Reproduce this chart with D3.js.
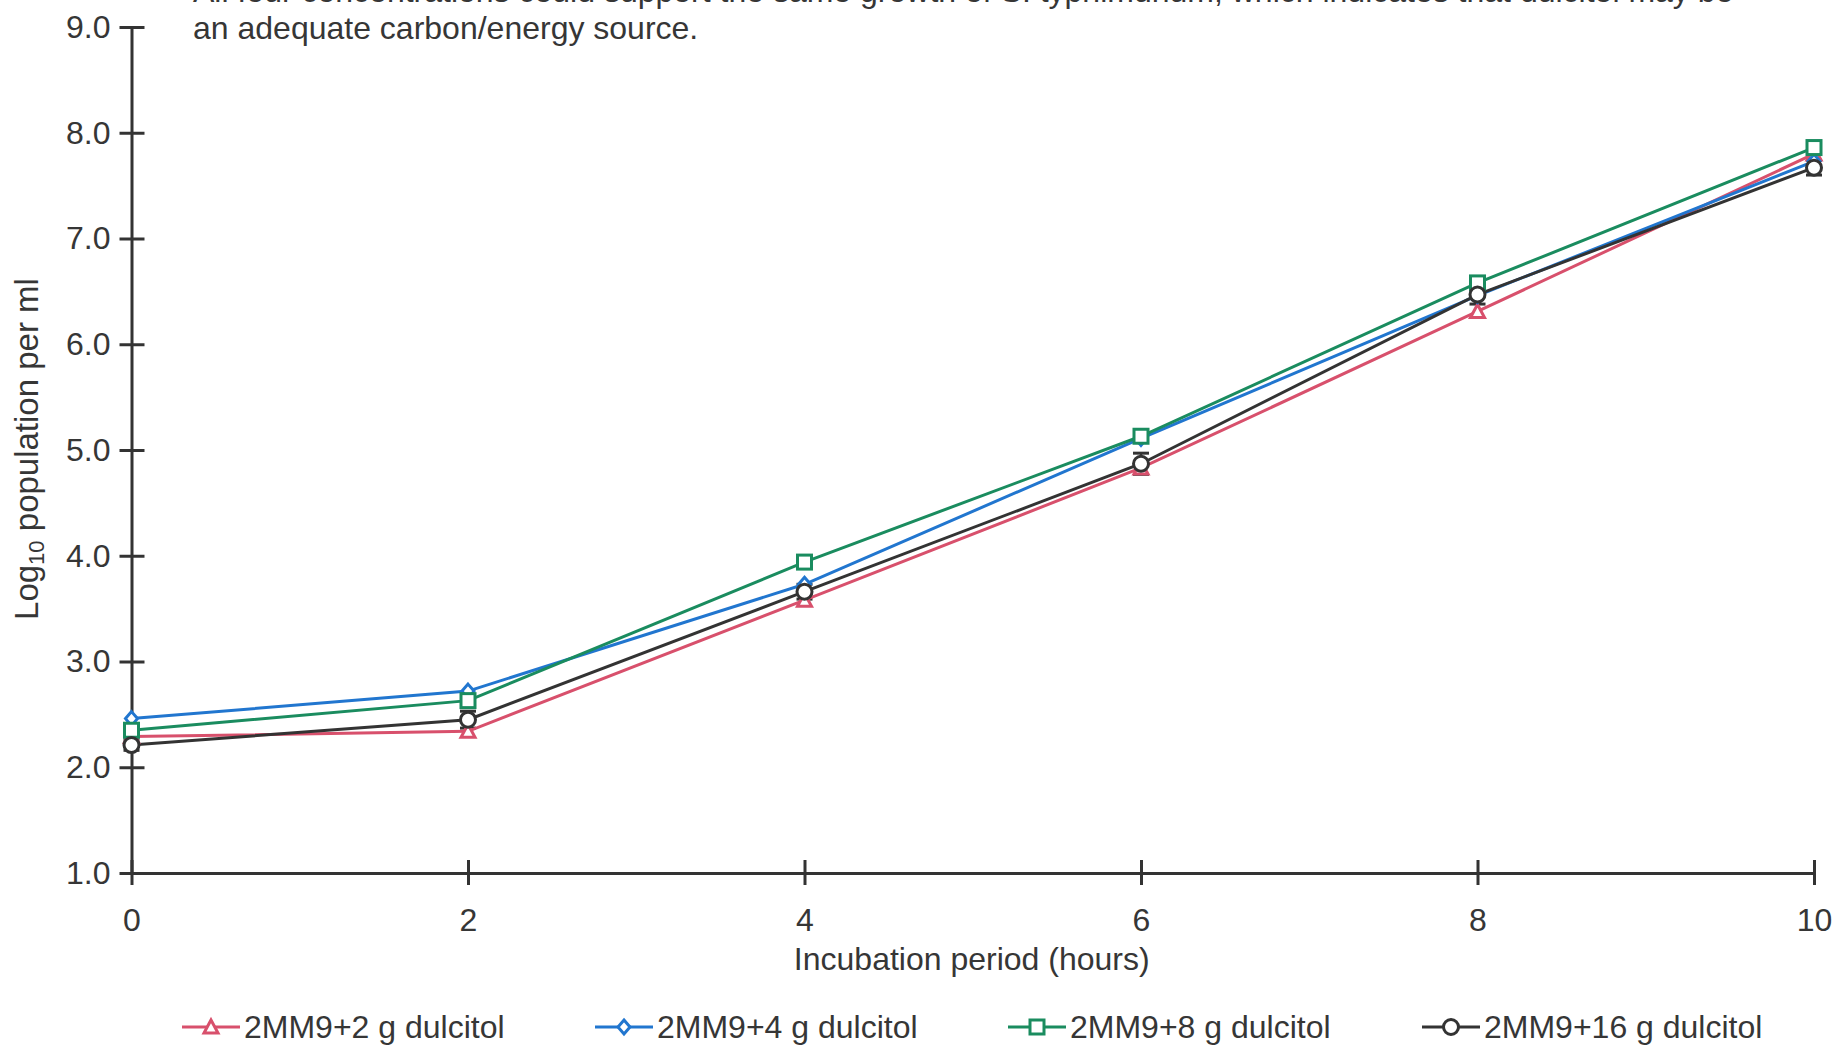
<!DOCTYPE html>
<html>
<head>
<meta charset="utf-8">
<script src="https://cdn.jsdelivr.net/npm/d3@7"></script>
<style>
  html, body { margin: 0; padding: 0; background: #ffffff; }
  svg { display: block; font-family: "Liberation Sans", Arial, Helvetica, sans-serif; }
</style>
</head>
<body>
<svg id="chart" width="1838" height="1046"></svg>
<script>
// ---- data ----
const hours = [0, 2, 4, 6, 8, 10];
const seriesNames = ["2MM9+2 g dulcitol", "2MM9+4 g dulcitol", "2MM9+8 g dulcitol", "2MM9+16 g dulcitol"];
const dulcitol2 = [2.29, 2.34, 3.58, 4.83, 6.31, 7.80];
const dulcitol4 = [2.46, 2.72, 3.73, 5.11, 6.46, 7.73];
const dulcitol8 = [2.35, 2.63, 3.94, 5.13, 6.58, 7.86];
const dulcitol16 = [2.21, 2.45, 3.66, 4.87, 6.47, 7.67];
const dulcitol16Err = [0.05, 0.08, 0.07, 0.10, 0.09, 0.07];
const yTicks = [1, 2, 3, 4, 5, 6, 7, 8, 9];
const xTicks = [0, 2, 4, 6, 8, 10];
const captionLines = [
  "All four concentrations could support the same growth of S. typhimurium, which indicates that dulcitol may be",
  "an adequate carbon/energy source."
];
const xTitle = "Incubation period (hours)";

// ---- styling ----
const colors = ["#d8506c", "#2176cf", "#1a8c5f", "#333333"];
const shapes = ["triangle", "diamond", "square", "circle"];
const textColor = "#363636";
const fontSize = 32;

const svg = d3.select("#chart");
const x = d3.scaleLinear().domain([0, 10]).range([131.5, 1814]);
const y = d3.scaleLinear().domain([1, 9]).range([873, 27]);

// caption
svg.append("g").selectAll("text").data(captionLines).join("text")
  .attr("x", 193)
  .attr("y", (d, i) => 2 + i * 37)
  .attr("fill", textColor)
  .attr("font-size", fontSize)
  .text(d => d);

// axes
const yAxis = d3.axisLeft(y).tickValues(yTicks).tickFormat(d3.format(".1f"))
  .tickSize(12).tickPadding(9).tickSizeOuter(0);
const gy = svg.append("g").attr("transform", `translate(${x(0)},0)`).call(yAxis);
gy.select(".domain").attr("stroke", "#333").attr("stroke-width", 3);
gy.selectAll(".tick line").attr("x1", -12).attr("x2", 13).attr("stroke", "#333").attr("stroke-width", 3);
gy.selectAll(".tick text").attr("font-size", fontSize).attr("fill", textColor).attr("font-family", "Liberation Sans, Arial, sans-serif");

const xAxis = d3.axisBottom(x).tickValues(xTicks).tickFormat(d3.format("d"))
  .tickSize(12).tickPadding(23).tickSizeOuter(0);
const gx = svg.append("g").attr("transform", `translate(0,${y(1)})`).call(xAxis);
gx.select(".domain").attr("stroke", "#333").attr("stroke-width", 3);
gx.selectAll(".tick line").attr("y1", -13).attr("y2", 12).attr("stroke", "#333").attr("stroke-width", 3);
gx.selectAll(".tick text").attr("font-size", fontSize).attr("fill", textColor).attr("font-family", "Liberation Sans, Arial, sans-serif");

// axis titles
svg.append("text")
  .attr("x", (x(0) + x(10)) / 2 - 1)
  .attr("y", 970)
  .attr("text-anchor", "middle")
  .attr("fill", textColor)
  .attr("font-size", fontSize)
  .text(xTitle);

const yt = svg.append("text")
  .attr("transform", "translate(38,449) rotate(-90)")
  .attr("text-anchor", "middle")
  .attr("fill", textColor)
  .attr("font-size", 33);
yt.append("tspan").text("Log");
yt.append("tspan").attr("font-size", 22).attr("dy", 6).text("10");
yt.append("tspan").attr("dy", -6).text(" population per ml");

// marker drawing
function drawMarker(g, shape, color) {
  if (shape === "triangle") {
    g.append("path").attr("d", "M0,-7 L7,6 L-7,6 Z");
  } else if (shape === "diamond") {
    g.append("path").attr("d", "M0,-7 L6,0 L0,7 L-6,0 Z");
  } else if (shape === "square") {
    g.append("rect").attr("x", -7).attr("y", -7).attr("width", 14).attr("height", 14);
  } else {
    g.append("circle").attr("r", 7.5);
  }
  g.selectAll("path,rect,circle").attr("fill", "#fff").attr("stroke", color).attr("stroke-width", 3);
}

const allSeries = [dulcitol2, dulcitol4, dulcitol8, dulcitol16];
const line = d3.line().x((d, i) => x(hours[i])).y(d => y(d));

// error caps for 16 g series
const errG = svg.append("g");
dulcitol16.forEach((v, i) => {
  const e = dulcitol16Err[i];
  errG.append("line").attr("x1", x(hours[i])).attr("x2", x(hours[i]))
    .attr("y1", y(v + e)).attr("y2", y(v - e)).attr("stroke", colors[3]).attr("stroke-width", 2.5);
  [v + e, v - e].forEach(b => {
    errG.append("line").attr("x1", x(hours[i]) - 8).attr("x2", x(hours[i]) + 8)
      .attr("y1", y(b)).attr("y2", y(b)).attr("stroke", colors[3]).attr("stroke-width", 3);
  });
});

allSeries.forEach((vals, s) => {
  svg.append("path").datum(vals)
    .attr("d", line)
    .attr("fill", "none")
    .attr("stroke", colors[s])
    .attr("stroke-width", 3);
});
allSeries.forEach((vals, s) => {
  vals.forEach((v, i) => {
    const g = svg.append("g").attr("transform", `translate(${x(hours[i])},${y(v)})`);
    drawMarker(g, shapes[s], colors[s]);
  });
});

// legend
const legendX = [182, 595, 1008, 1422];
const legend = svg.append("g");
seriesNames.forEach((name, s) => {
  const lx = legendX[s];
  const ly = 1027;
  legend.append("line").attr("x1", lx).attr("x2", lx + 58).attr("y1", ly).attr("y2", ly)
    .attr("stroke", colors[s]).attr("stroke-width", 3);
  const g = legend.append("g").attr("transform", `translate(${lx + 29},${ly})`);
  drawMarker(g, shapes[s], colors[s]);
  legend.append("text").attr("x", lx + 62).attr("y", ly + 11)
    .attr("fill", textColor).attr("font-size", fontSize).text(name);
});
</script>
</body>
</html>
